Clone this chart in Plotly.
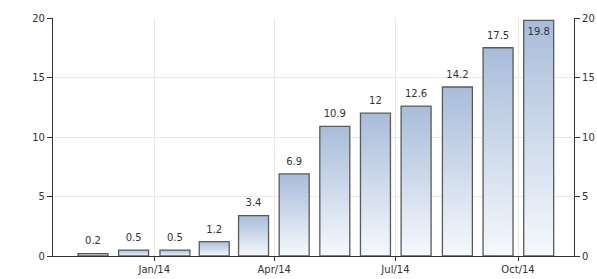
import plotly.graph_objects as go
import pandas as pd

months = ["2013-11", "2013-12", "2014-01", "2014-02", "2014-03", "2014-04",
          "2014-05", "2014-06", "2014-07", "2014-08", "2014-09", "2014-10"]
values = [0.2, 0.5, 0.5, 1.2, 3.4, 6.9, 10.9, 12, 12.6, 14.2, 17.5, 19.8]
labels = ["0.2", "0.5", "0.5", "1.2", "3.4", "6.9", "10.9", "12", "12.6", "14.2", "17.5", "19.8"]
y_ticks = [0, 5, 10, 15, 20]

fig = go.Figure()
half = pd.Timedelta(days=11.25)
centers = []
for m, v in zip(months, values):
    start = pd.Timestamp(m + "-01")
    end = start + pd.offsets.MonthBegin(1)
    c = start + (end - start) / 2
    centers.append(c.isoformat())
    xs = [(c - half).isoformat(), (c - half).isoformat(), (c + half).isoformat(),
          (c + half).isoformat(), (c - half).isoformat()]
    ys = [0, v, v, 0, 0]
    fig.add_trace(go.Scatter(
        x=xs, y=ys, mode="lines", fill="toself",
        fillgradient=dict(type="vertical",
                          colorscale=[[0, "#f6f9fd"], [1, "#a8bcda"]],
                          start=0, stop=v),
        line=dict(color="#5a5a5a", width=1.3),
        hoverinfo="skip", showlegend=False))

positions = ["top center"] * (len(values) - 1) + ["bottom center"]
fig.add_trace(go.Scatter(
    x=centers, y=values, mode="markers+text", text=labels, textposition=positions,
    marker=dict(size=9, opacity=0),
    textfont=dict(family="DejaVu Sans", size=10, color="#333333"),
    cliponaxis=False, showlegend=False, hoverinfo="skip"))

# invisible trace on the right axis so it is drawn
fig.add_trace(go.Scatter(x=centers[:1], y=[0], yaxis="y2", mode="markers",
                         marker=dict(opacity=0), showlegend=False, hoverinfo="skip"))

axis_font = dict(family="DejaVu Sans", size=10, color="#333333")
fig.update_layout(
    width=597, height=279,
    margin=dict(l=53, r=23, t=18, b=23),
    paper_bgcolor="white", plot_bgcolor="white",
    xaxis=dict(type="date", range=["2013-10-17", "2014-11-12"],
               tick0="2014-01-01", dtick="M3", tickformat="%b/%y",
               ticks="outside", ticklen=4, tickcolor="#333333",
               showgrid=True, gridcolor="#e8e8e8", gridwidth=1,
               showline=True, linecolor="#333333", linewidth=1.2,
               tickfont=axis_font, zeroline=False, automargin=False),
    yaxis=dict(range=[0, 20], tickvals=y_ticks,
               ticks="outside", ticklen=5, tickcolor="#333333",
               showgrid=True, gridcolor="#e8e8e8", gridwidth=1,
               showline=True, linecolor="#333333", linewidth=1.2,
               tickfont=axis_font, zeroline=False, automargin=False),
    yaxis2=dict(range=[0, 20], tickvals=y_ticks, overlaying="y", side="right",
                ticks="outside", ticklen=5, tickcolor="#333333",
                showgrid=False, showline=True, linecolor="#333333", linewidth=1.2,
                tickfont=axis_font, zeroline=False, automargin=False),
)

fig.write_html("out.html")
